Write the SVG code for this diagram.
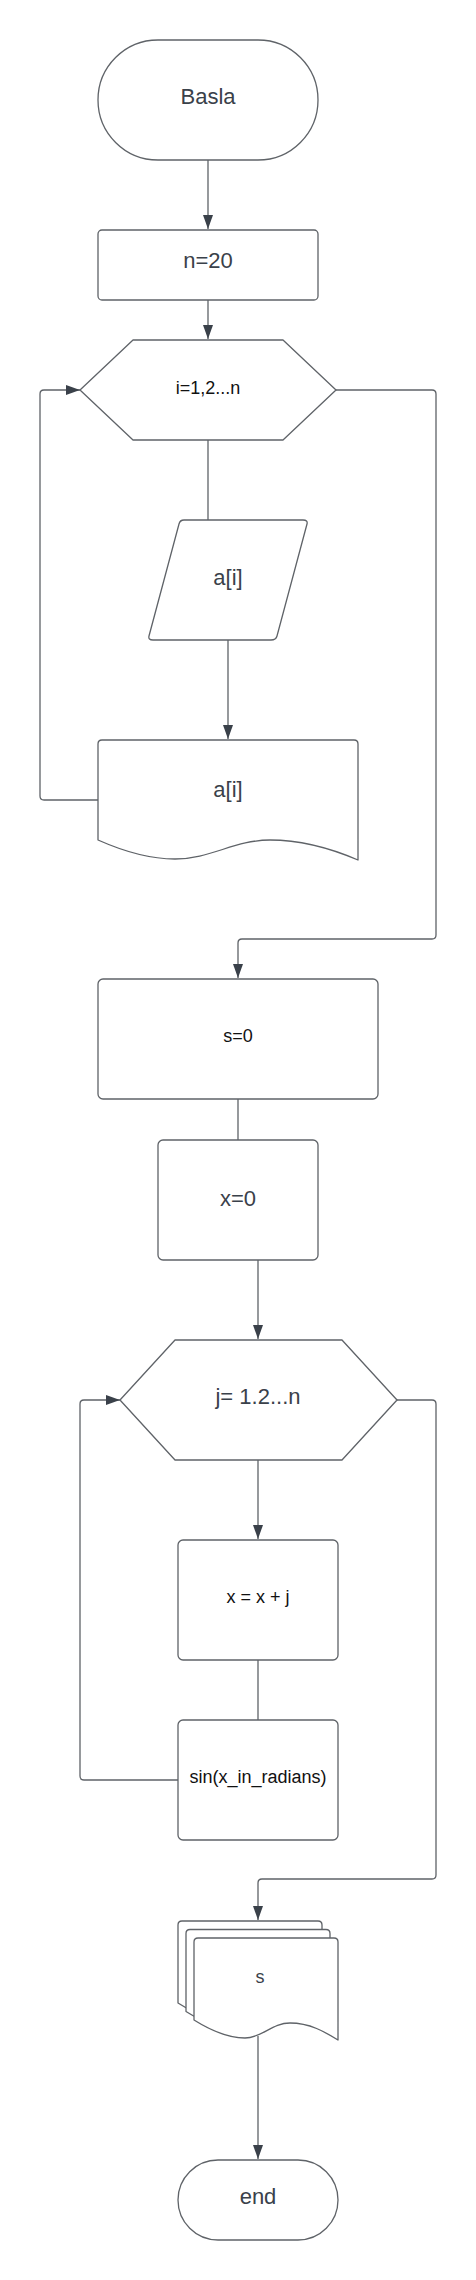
<svg xmlns="http://www.w3.org/2000/svg" width="476" height="2280" viewBox="0 0 476 2280">
<style>
.shape{fill:#ffffff;stroke:#5f6368;stroke-width:1.3;stroke-linejoin:round}
.conn{fill:none;stroke:#5f6368;stroke-width:1.3}
.t{font-family:"Liberation Sans",Arial,sans-serif;text-anchor:middle}
.g{fill:#3a414a;font-size:22px}
.b{fill:#111111;font-size:18px}
</style>
<defs>
<marker id="arr" markerUnits="userSpaceOnUse" markerWidth="14" markerHeight="10" refX="14" refY="5" orient="auto">
<path d="M0,0 L14,5 L0,10 z" fill="#3a414a"/>
</marker>
<path id="docS" d="M194,2020 V1942 Q194,1938 198,1938 H334 Q338,1938 338,1942 V2040 C325,2032 310,2023 290,2023 C272,2023 262,2038 245,2038 C228,2038 210,2030 194,2020 Z"/>
</defs>
<rect width="476" height="2280" fill="#ffffff"/>
<g id="connectors">
<path class="conn" d="M208,160 V229" marker-end="url(#arr)"/>
<path class="conn" d="M208,300 V339" marker-end="url(#arr)"/>
<path class="conn" d="M208,440 V520"/>
<path class="conn" d="M228,640 V739" marker-end="url(#arr)"/>
<path class="conn" d="M98,800 H44 Q40,800 40,796 V394 Q40,390 44,390 H80" marker-end="url(#arr)"/>
<path class="conn" d="M336,390 H432 Q436,390 436,394 V935 Q436,939 432,939 H242 Q238,939 238,943 V978" marker-end="url(#arr)"/>
<path class="conn" d="M238,1099 V1140"/>
<path class="conn" d="M258,1260 V1339" marker-end="url(#arr)"/>
<path class="conn" d="M258,1460 V1539" marker-end="url(#arr)"/>
<path class="conn" d="M258,1660 V1720"/>
<path class="conn" d="M178,1780 H84 Q80,1780 80,1776 V1404 Q80,1400 84,1400 H120" marker-end="url(#arr)"/>
<path class="conn" d="M397,1400 H432 Q436,1400 436,1404 V1875 Q436,1879 432,1879 H262 Q258,1879 258,1883 V1920" marker-end="url(#arr)"/>
<path class="conn" d="M258,2036 V2159" marker-end="url(#arr)"/>
</g>
<g id="start">
<rect class="shape" x="98" y="40" width="220" height="120" rx="60" ry="60"/>
<text class="t g" x="208" y="104">Basla</text>
</g>
<g id="n20">
<rect class="shape" x="98" y="230" width="220" height="70" rx="4"/>
<text class="t g" x="208" y="268">n=20</text>
</g>
<g id="loopI">
<path class="shape" d="M80,390 L133,340 H283 L336,390 L283,440 H133 Z"/>
<text class="t b" x="208" y="394">i=1,2...n</text>
</g>
<g id="inputA">
<path class="shape" d="M184,520 H303 Q308,520 307,524 L277,636 Q276,640 271,640 H153 Q148,640 149,636 L179,524 Q180,520 184,520 Z"/>
<text class="t g" x="228" y="585">a[i]</text>
</g>
<g id="docA">
<path class="shape" d="M98,840 V744 Q98,740 102,740 H354 Q358,740 358,744 V860 C330,848 300,840 270,840 C235,840 210,859 175,859 C150,859 125,852 98,840 Z"/>
<text class="t g" x="228" y="797">a[i]</text>
</g>
<g id="s0">
<rect class="shape" x="98" y="979" width="280" height="120" rx="5"/>
<text class="t b" x="238" y="1042">s=0</text>
</g>
<g id="x0">
<rect class="shape" x="158" y="1140" width="160" height="120" rx="5"/>
<text class="t g" x="238" y="1206">x=0</text>
</g>
<g id="loopJ">
<path class="shape" d="M120,1400 L175,1340 H342 L397,1400 L342,1460 H175 Z"/>
<text class="t g" x="258" y="1404">j= 1.2...n</text>
</g>
<g id="xxj">
<rect class="shape" x="178" y="1540" width="160" height="120" rx="5"/>
<text class="t b" x="258" y="1603">x = x + j</text>
</g>
<g id="sin">
<rect class="shape" x="178" y="1720" width="160" height="120" rx="5"/>
<text class="t b" x="258" y="1783">sin(x_in_radians)</text>
</g>
<g id="multiDoc">
<use href="#docS" class="shape" transform="translate(-16,-17)"/>
<use href="#docS" class="shape" transform="translate(-8,-8.5)"/>
<use href="#docS" class="shape"/>
<text class="t" x="260" y="1983" style="fill:#3a414a;font-size:18px">s</text>
</g>
<g id="end">
<rect class="shape" x="178" y="2160" width="160" height="80" rx="40" ry="40"/>
<text class="t g" x="258" y="2204">end</text>
</g>
</svg>
